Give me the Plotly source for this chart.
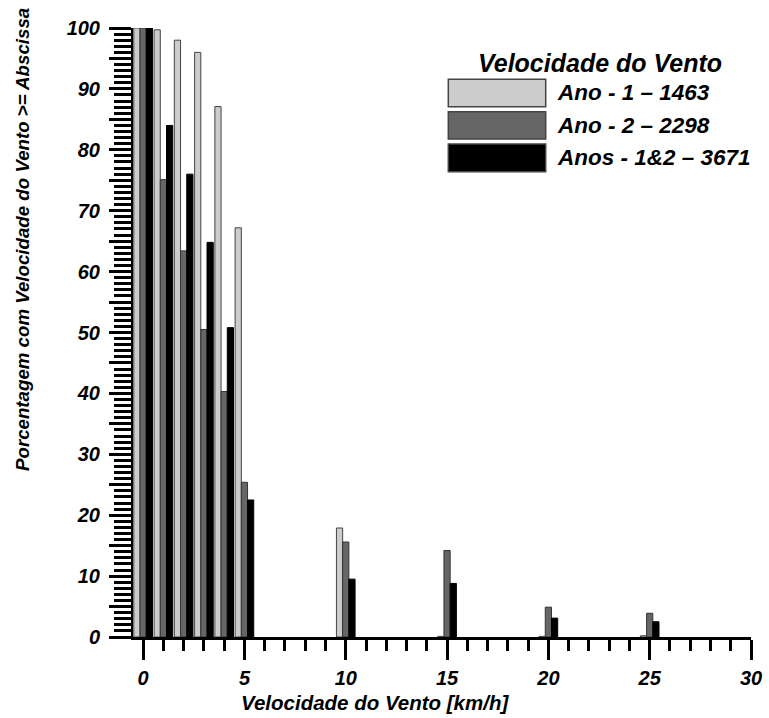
import plotly.graph_objects as go

# Wind speed classes (km/h) and percentage of records with speed >= class
velocidade = [0, 1, 2, 3, 4, 5, 10, 15, 20, 25]
ano1 = [100.0, 99.7, 98.0, 96.0, 87.1, 67.2, 17.9, 0.1, 0.1, 0.2]
ano2 = [100.0, 75.1, 63.4, 50.5, 40.3, 25.4, 15.6, 14.2, 4.9, 3.9]
anos12 = [100.0, 84.0, 76.0, 64.8, 50.8, 22.5, 9.5, 8.8, 3.1, 2.5]

serie_nomes = ["Ano - 1 \u2013 1463", "Ano - 2 \u2013 2298", "Anos - 1&2 \u2013 3671"]
serie_cores = ["#cccccc", "#666666", "#000000"]
serie_bordas = ["#444444", "#333333", "#000000"]

y_ticks = list(range(0, 101, 5))
y_labels = [str(v) if v % 10 == 0 else "" for v in y_ticks]

FONT = "Liberation Sans, Arial, sans-serif"

W, H = 769, 718
L, R, T, B = 133, 18, 28, 81
PW, PH = W - L - R, H - T - B


def px(x):
    return (x - L) / PW


def py(y):
    return (H - B - y) / PH


def bold_italic(size):
    return dict(family=FONT, size=size, color="black", weight="bold", style="italic")


fig = go.Figure()
for vals, nome, cor, borda in zip([ano1, ano2, anos12], serie_nomes, serie_cores, serie_bordas):
    fig.add_trace(go.Bar(
        x=velocidade, y=vals, name=nome,
        marker=dict(color=cor, line=dict(color=borda, width=1)),
        showlegend=False,
    ))

# Legend drawn as boxes with labels
box_rows = [(79.3, 106.7), (111.7, 139.0), (144.0, 171.7)]
for (y0, y1), nome, cor in zip(box_rows, serie_nomes, serie_cores):
    fig.add_shape(type="rect", xref="paper", yref="paper",
                  x0=px(448.3), x1=px(545.7), y0=py(y1), y1=py(y0),
                  fillcolor=cor, line=dict(color="#444444", width=1.5))
    fig.add_annotation(xref="paper", yref="paper", x=px(555), y=py((y0 + y1) / 2),
                       text=nome, showarrow=False, xanchor="left", yanchor="middle",
                       font=bold_italic(22.5))

fig.add_annotation(xref="paper", yref="paper", x=px(600), y=py(63),
                   text="Velocidade do Vento", showarrow=False, xanchor="center", yanchor="middle",
                   font=bold_italic(25))

# Axis titles
fig.add_annotation(xref="paper", yref="paper", x=px(375), y=py(702),
                   text="Velocidade do Vento [km/h]", showarrow=False,
                   xanchor="center", yanchor="middle", font=bold_italic(20.5))
fig.add_annotation(xref="paper", yref="paper", x=px(22), y=py(240),
                   text="Porcentagem com Velocidade do Vento >= Abscissa", showarrow=False,
                   textangle=-90, xanchor="center", yanchor="middle", font=bold_italic(18.7))

tick_font = bold_italic(20)

fig.update_layout(
    width=W, height=H,
    margin=dict(l=L, r=R, t=T, b=B, autoexpand=False),
    paper_bgcolor="white", plot_bgcolor="white",
    barmode="group", bargap=0.08, bargroupgap=0,
    xaxis=dict(
        range=[-0.5, 30], tickmode="linear", tick0=0, dtick=5,
        showgrid=False, zeroline=False, showline=True, linecolor="black", linewidth=3,
        ticks="outside", ticklen=20, tickwidth=3, tickcolor="black",
        tickfont=tick_font, ticklabelstandoff=1,
        minor=dict(tickmode="linear", tick0=0, dtick=1, ticks="outside",
                   ticklen=11, tickwidth=3, tickcolor="black", showgrid=False),
    ),
    yaxis=dict(
        range=[0, 100], tickmode="array", tickvals=y_ticks, ticktext=y_labels,
        showgrid=False, zeroline=False, showline=True, linecolor="black", linewidth=2,
        ticks="outside", ticklen=22, tickwidth=2.5, tickcolor="black",
        tickfont=tick_font, ticklabelstandoff=5,
        minor=dict(tickmode="linear", tick0=0, dtick=1, ticks="outside",
                   ticklen=17, tickwidth=2.5, tickcolor="black", showgrid=False),
    ),
)

fig.write_html("out.html")
